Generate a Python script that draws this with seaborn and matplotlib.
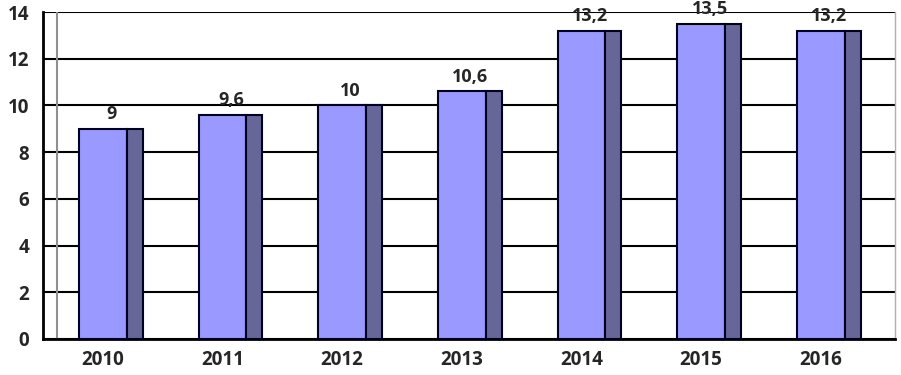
import numpy as np
import matplotlib
matplotlib.use("Agg")
import matplotlib.pyplot as plt
import seaborn as sns

# data
years = ["2010", "2011", "2012", "2013", "2014", "2015", "2016"]
values = [9, 9.6, 10, 10.6, 13.2, 13.5, 13.2]
labels = ["9", "9,6", "10", "10,6", "13,2", "13,5", "13,2"]
y_ticks = [0, 2, 4, 6, 8, 10, 12, 14]

sns.set_style("white")
plt.rcParams['font.family'] = ['Open Sans', 'DejaVu Sans']

fig = plt.figure(figsize=(9.01, 3.75), dpi=100)
ax = fig.add_axes([43 / 901, 36 / 375, (895 - 43) / 901, (339 - 12) / 375])

# front faces
sns.barplot(x=years, y=values, color="#9999ff", width=0.4, saturation=1,
            edgecolor="#000022", linewidth=1.5, ax=ax, zorder=3)
# side faces (pseudo 3D)
pos = np.arange(len(years))
ax.bar(pos + 0.2 + 0.067, values, width=0.134, color="#666699",
       edgecolor="#000022", linewidth=1.5, zorder=3)

for p, v, lab in zip(pos, values, labels):
    ax.annotate(lab, (p + 0.07, v), xytext=(0, 4), textcoords="offset points",
                ha="center", va="bottom", fontsize=13, fontweight="bold")

ax.set_xlim(-0.5, 6.62)
ax.set_ylim(0, 14)
ax.set_yticks(y_ticks)
ax.yaxis.grid(True, color="black", linewidth=1.5, zorder=0)
ax.set_axisbelow(True)
ax.axvline(-0.385, color="#909090", linewidth=1.5, zorder=1)

ax.spines["top"].set_visible(False)
ax.spines["right"].set_color("#b0b0b0")
ax.spines["right"].set_linewidth(1)
ax.spines["left"].set_linewidth(2)
ax.spines["bottom"].set_linewidth(2)
ax.spines["left"].set_color("black")
ax.spines["bottom"].set_color("black")

ax.set_xticks(np.arange(-0.5, 7, 1), minor=True)
ax.tick_params(axis="x", which="major", length=0, pad=8)
ax.tick_params(axis="x", which="minor", length=5, direction="out", color="#606060")
ax.tick_params(axis="y", length=5, direction="out", pad=5)
for t in ax.get_xticklabels() + ax.get_yticklabels():
    t.set_fontsize(13.5)
    t.set_fontweight("bold")
ax.set_xlabel("")
ax.set_ylabel("")

fig.savefig("out.png", dpi=100)
